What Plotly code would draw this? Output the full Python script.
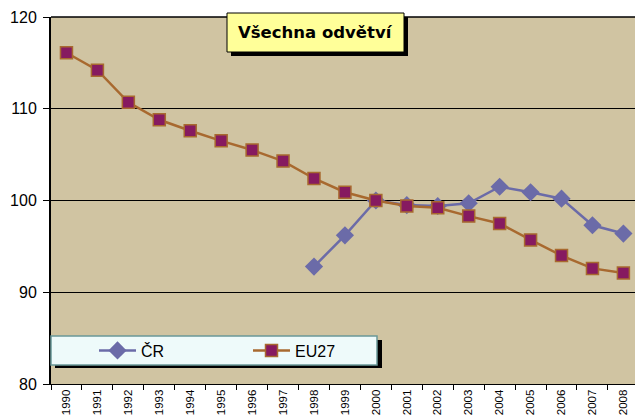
import plotly.graph_objects as go

years = [str(y) for y in range(1990, 2009)]
cr_years = [str(y) for y in range(1998, 2009)]
cr_values = [92.8, 96.2, 100.0, 99.5, 99.4, 99.7, 101.5, 100.9, 100.2, 97.3, 96.4]
eu_values = [116.1, 114.2, 110.7, 108.8, 107.6, 106.5, 105.5, 104.3, 102.4, 100.9,
             100.0, 99.4, 99.2, 98.3, 97.5, 95.7, 94.0, 92.6, 92.1]
title_text = "Všechna odvětví"

W, H = 635, 418
L, R, T, B = 51, 0, 17, 34
PW, PH = W - L - R, H - T - B

def px_x(p):
    return (p - L) / PW

def px_y(p):
    return (H - B - p) / PH

fig = go.Figure()
fig.add_trace(go.Scatter(
    x=cr_years, y=cr_values, name="ČR", mode="lines+markers",
    line=dict(color="#6B6BA8", width=2.5),
    marker=dict(symbol="diamond", size=14, color="#6B6BA8"),
))
fig.add_trace(go.Scatter(
    x=years, y=eu_values, name="EU27", mode="lines+markers",
    line=dict(color="#A8692F", width=2.5),
    marker=dict(symbol="square", size=12, color="#861A60",
                line=dict(color="#A8692F", width=1.5)),
))

shapes = [
    dict(type="line", xref="paper", yref="paper", x0=0, x1=1, y0=1, y1=1,
         line=dict(color="black", width=1.5), layer="above"),
    dict(type="rect", xref="paper", yref="paper", x0=px_x(231), x1=px_x(408),
         y0=px_y(56), y1=px_y(17), fillcolor="black", line=dict(width=0), layer="above"),
    dict(type="rect", xref="paper", yref="paper", x0=px_x(227), x1=px_x(404),
         y0=px_y(52), y1=px_y(13), fillcolor="#FFFF99", line=dict(color="black", width=1),
         layer="above"),
    dict(type="rect", xref="paper", yref="paper", x0=px_x(55), x1=px_x(382),
         y0=px_y(368), y1=px_y(340), fillcolor="black", line=dict(width=0), layer="above"),
    dict(type="rect", xref="paper", yref="paper", x0=px_x(51), x1=px_x(377),
         y0=px_y(365), y1=px_y(336), fillcolor="#EEFAFA", line=dict(color="#6A9898", width=1.5),
         layer="above"),
]

fig.update_layout(
    width=W, height=H,
    margin=dict(l=L, r=R, t=T, b=B, pad=0),
    paper_bgcolor="white",
    plot_bgcolor="#D0C4A2",
    font=dict(family="Liberation Sans, Arial, sans-serif", color="black"),
    showlegend=True,
    legend=dict(orientation="h", x=px_x(94), y=px_y(350.5), xanchor="left", yanchor="middle",
                bgcolor="rgba(0,0,0,0)", borderwidth=0, font=dict(size=16),
                itemwidth=37, entrywidth=102, entrywidthmode="pixels"),
    shapes=shapes,
    annotations=[dict(text="<b>" + title_text + "</b>", xref="paper", yref="paper",
                      x=px_x(315.5), y=px_y(32.5), xanchor="center", yanchor="middle",
                      showarrow=False,
                      font=dict(family="DejaVu Sans, Verdana, sans-serif", size=16.5, color="black"))],
)
fig.update_xaxes(
    type="category", categoryorder="array", categoryarray=years,
    range=[-0.5, 18.375], tickson="boundaries",
    ticks="outside", ticklen=5, tickcolor="black", tickwidth=1,
    showgrid=False, showline=True, linecolor="black", linewidth=1,
    tickangle=-90, tickfont=dict(size=11.5), zeroline=False,
)
fig.update_yaxes(
    range=[80, 120], dtick=10, tick0=80,
    ticks="outside", ticklen=6, tickcolor="black", tickwidth=1,
    showgrid=True, gridcolor="black", gridwidth=1,
    showline=True, linecolor="black", linewidth=2,
    tickfont=dict(size=16), zeroline=False, ticklabelstandoff=3,
)
fig.write_html("out.html", config={"displayModeBar": False},
               post_script="document.body.style.margin='0';document.body.style.overflow='hidden';")
